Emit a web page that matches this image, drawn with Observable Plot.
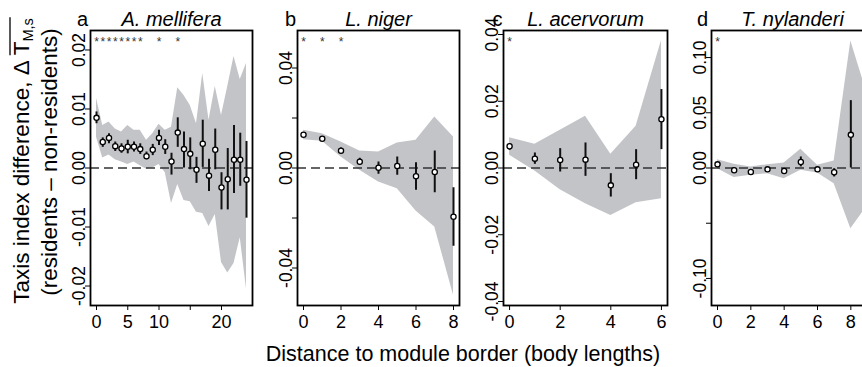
<!DOCTYPE html>
<html>
<head>
<meta charset="utf-8">
<script src="https://cdn.jsdelivr.net/npm/d3@7"></script>
<script src="https://cdn.jsdelivr.net/npm/@observablehq/plot@0.6"></script>
<style>
  html, body { margin: 0; padding: 0; background: white; }
  #chart { position: relative; width: 862px; height: 367px; overflow: hidden; background: white;
           font-family: "Liberation Sans", Arial, Helvetica, sans-serif; }
  #chart > svg { position: absolute; left: 0; top: 0; max-width: none !important; }
</style>
</head>
<body>
<div id="chart"></div>
<script>
// ---------------- data ----------------
// Panel a: A. mellifera
const xA = [0,1,2,3,4,5,6,7,8,9,10,11,12,13,14,15,16,17,18,19,20,21,22,23,24];
const meanA = [0.0085,0.0044,0.0051,0.0037,0.0033,0.0036,0.0036,0.0032,0.0020,0.0031,0.0051,0.0036,0.0011,0.0060,0.0032,0.0024,-0.0003,0.0041,-0.0013,0.0031,-0.0033,-0.0019,0.0014,0.0014,-0.0020];
const errLoA = [0.0075,0.0035,0.0041,0.0028,0.0025,0.0024,0.0027,0.0023,0.0014,0.0021,0.0038,0.0023,-0.0012,0.0035,0.0000,-0.0003,-0.0026,0.0001,-0.0040,-0.0003,-0.0071,-0.0071,-0.0043,-0.0031,-0.0085];
const errHiA = [0.0095,0.0051,0.0058,0.0044,0.0041,0.0047,0.0044,0.0041,0.0027,0.0040,0.0064,0.0048,0.0025,0.0085,0.0061,0.0051,0.0018,0.0081,0.0015,0.0066,-0.0008,0.0033,0.0072,0.0059,0.0045];
const bandHiA = [0.0118,0.0072,0.0078,0.0066,0.0061,0.0072,0.0064,0.0064,0.0047,0.0058,0.0074,0.0064,0.0069,0.0136,0.0123,0.0106,0.0075,0.0160,0.0081,0.0138,0.0089,0.0138,0.0189,0.0150,0.0177];
const bandLoA = [0.0052,0.0017,0.0022,0.0014,0.0010,0.0006,0.0010,0.0004,-0.0002,0.0000,0.0006,-0.0008,-0.0060,-0.0028,-0.0055,-0.0057,-0.0075,-0.0077,-0.0099,-0.0079,-0.0160,-0.0178,-0.0162,-0.0118,-0.0205];
const starsA = [0,1,2,3,4,5,6,7,10,13];

// Panel b: L. niger
const xB = [0,1,2,3,4,5,6,7,8];
const meanB = [0.0133,0.0117,0.0069,0.0025,0.0001,0.0008,-0.0033,-0.0016,-0.0195];
const errLoB = [0.0125,0.0110,0.0058,0.0011,-0.0025,-0.0029,-0.0089,-0.0099,-0.0313];
const errHiB = [0.0141,0.0124,0.0080,0.0039,0.0024,0.0044,0.0021,0.0068,-0.0079];
const bandHiB = [0.0151,0.0137,0.0104,0.0068,0.0064,0.0100,0.0111,0.0204,0.0124];
const bandLoB = [0.0113,0.0107,0.0044,-0.0009,-0.0056,-0.0083,-0.0172,-0.0236,-0.0509];
const starsB = [0,1,2];

// Panel c: L. acervorum
const xC = [0,1,2,3,4,5,6];
const meanC = [0.0065,0.0028,0.0024,0.0025,-0.0052,0.0010,0.0146];
const errLoC = [0.0053,0.0011,-0.0012,-0.0025,-0.0087,-0.0035,0.0055];
const errHiC = [0.0073,0.0045,0.0058,0.0075,-0.0017,0.0055,0.0235];
const bandHiC = [0.0091,0.0071,0.0113,0.0155,0.0041,0.0125,0.0381];
const bandLoC = [0.0038,-0.0009,-0.0065,-0.0107,-0.0142,-0.0104,-0.0092];
const starsC = [0];

// Panel d: T. nylanderi
const xD = [0,1,2,3,4,5,6,7,8];
const meanD = [0.0033,-0.0021,-0.0036,-0.0012,-0.0027,0.0054,-0.0012,-0.0039,0.030];
const errLoD = [0.0020,-0.0030,-0.0045,-0.0020,-0.0036,0.0010,-0.0020,-0.0081,0.0];
const errHiD = [0.0046,-0.0012,-0.0027,-0.0004,-0.0018,0.0100,-0.0004,-0.0006,0.061];
const bandXD = [0,1,2,3,4,5,6,7,8,9];
const bandHiD = [0.0075,0.0033,0.0009,0.0030,0.0045,0.0169,0.0024,0.0063,0.115,0.066];
const bandLoD = [-0.0006,-0.0087,-0.0066,-0.0051,-0.0097,-0.0021,-0.0045,-0.0142,-0.055,-0.034];
const starsD = [0];

// tick labels
const xTicksA = [0,5,10,15,20];
const xTickLabelsA = ["0","5","10","","20"];
const xTicksB = [0,2,4,6,8];
const xTickLabelsB = ["0","2","4","6","8"];
const xTicksC = [0,2,4,6];
const xTickLabelsC = ["0","2","4","6"];
const xTicksD = [0,2,4,6,8];
const xTickLabelsD = ["0","2","4","6","8"];

const yTicksA = [-0.02,-0.01,0,0.01,0.02];
const yTickLabelsA = ["-0.02","-0.01","0.00","0.01","0.02"];
const yTicksB = [-0.04,-0.02,0,0.02,0.04];
const yTickLabelsB = ["-0.04","","0.00","","0.04"];
const yTicksC = [-0.04,-0.02,0,0.02,0.04];
const yTickLabelsC = ["-0.04","-0.02","0.00","0.02","0.04"];
const yTicksD = [-0.10,-0.05,0,0.05,0.10];
const yTickLabelsD = ["-0.10","","0.00","0.05","0.10"];

const letters = ["a","b","c","d"];
const species = ["A. mellifera","L. niger","L. acervorum","T. nylanderi"];
const yTitle1 = "Taxis index difference, \u0394 ";
const yTitleT = "T";
const yTitleSub = "M,s";
const yTitle2 = "(residents \u2013 non-residents)";
const xTitle = "Distance to module border (body lengths)";

// ---------------- layout ----------------
const H = 367, TOP = 30, BOTTOM = 62;
const FONT = "'Liberation Sans', Arial, Helvetica, sans-serif";
const BAND = "#c3c4c8";

function panel(cfg) {
  const pts = cfg.x.map((x, i) => ({x, m: cfg.mean[i], lo: cfg.errLo[i], hi: cfg.errHi[i]}));
  const band = cfg.bandX.map((x, i) => ({x, lo: cfg.bandLo[i], hi: cfg.bandHi[i]}));
  const yLab = cfg.yTicks.map((v, i) => ({v, t: cfg.yTickLabels[i]})).filter(d => d.t !== "");
  const xLabel = new Map(cfg.xTicks.map((v, i) => [v, cfg.xTickLabels[i]]));
  const svg = Plot.plot({
    width: cfg.width, height: H,
    marginTop: TOP, marginBottom: BOTTOM,
    marginLeft: cfg.left, marginRight: cfg.width - cfg.right,
    style: {background: "transparent", overflow: "visible", fontFamily: FONT, fontSize: "18px", color: "black", maxWidth: "none"},
    x: {domain: cfg.xDomain, ticks: cfg.xTicks, tickFormat: d => xLabel.get(d) ?? "", tickSize: 5, tickPadding: 5, label: null},
    y: {domain: cfg.yDomain, ticks: cfg.yTicks, tickFormat: () => "", tickSize: 5, tickPadding: 0, label: null},
    marks: [
      Plot.areaY(band, {x: "x", y1: "lo", y2: "hi", fill: BAND}),
      Plot.ruleY([0], {stroke: "#333", strokeWidth: 1.4, strokeDasharray: "9,5"}),
      Plot.ruleX(pts, {x: "x", y1: "lo", y2: "hi", stroke: "#111", strokeWidth: 2}),
      Plot.dot(pts, {x: "x", y: "m", r: 2.6, fill: "white", stroke: "black", strokeWidth: 1.3}),
      Plot.text(cfg.stars, {x: d => d, frameAnchor: "top", dy: 15, text: () => "*", fontSize: 12, lineAnchor: "bottom", fill: "#333"}),
      Plot.text(yLab, {y: "v", text: "t", frameAnchor: "left", dx: -6, rotate: -90, textAnchor: "middle", lineAnchor: "bottom", fontSize: 17.5}),
      Plot.text([cfg.letter], {frameAnchor: "top-left", dx: cfg.letterDx, dy: -5, text: d => d, textAnchor: "middle", lineAnchor: "bottom", fontSize: 20}),
      Plot.text([cfg.title], {frameAnchor: "top", dy: -4.5, text: d => d, lineAnchor: "bottom", fontStyle: "italic", fontSize: 20}),
      Plot.frame({stroke: "black", strokeWidth: 1.8})
    ]
  });
  svg.style.maxWidth = "none";
  svg.style.width = cfg.width + "px";
  svg.style.height = H + "px";
  return svg;
}

const chart = document.getElementById("chart");
const cfgs = [
  {width: 862, left: 90, right: 252, xDomain: [-0.96, 24.96], yDomain: [-0.0233, 0.0233],
   x: xA, mean: meanA, errLo: errLoA, errHi: errHiA, bandX: xA, bandLo: bandLoA, bandHi: bandHiA, stars: starsA,
   xTicks: xTicksA, xTickLabels: xTickLabelsA, yTicks: yTicksA, yTickLabels: yTickLabelsA,
   letter: letters[0], letterDx: -8, title: species[0]},
  {width: 862, left: 297, right: 459, xDomain: [-0.32, 8.32], yDomain: [-0.055, 0.055],
   x: xB, mean: meanB, errLo: errLoB, errHi: errHiB, bandX: xB, bandLo: bandLoB, bandHi: bandHiB, stars: starsB,
   xTicks: xTicksB, xTickLabels: xTickLabelsB, yTicks: yTicksB, yTickLabels: yTickLabelsB,
   letter: letters[1], letterDx: -7, title: species[1]},
  {width: 862, left: 503, right: 667, xDomain: [-0.24, 6.24], yDomain: [-0.0412, 0.0412],
   x: xC, mean: meanC, errLo: errLoC, errHi: errHiC, bandX: xC, bandLo: bandLoC, bandHi: bandHiC, stars: starsC,
   xTicks: xTicksC, xTickLabels: xTickLabelsC, yTicks: yTicksC, yTickLabels: yTickLabelsC,
   letter: letters[2], letterDx: -6, title: species[2]},
  {width: 900, left: 711, right: 873, xDomain: [-0.36, 9.36], yDomain: [-0.1245, 0.1245],
   x: xD, mean: meanD, errLo: errLoD, errHi: errHiD, bandX: bandXD, bandLo: bandLoD, bandHi: bandHiD, stars: starsD,
   xTicks: xTicksD, xTickLabels: xTickLabelsD, yTicks: yTicksD, yTickLabels: yTickLabelsD,
   letter: letters[3], letterDx: -9, title: species[3]}
];
for (const c of cfgs) chart.appendChild(panel(c));

// ---------------- axis titles (overlay) ----------------
const svg = d3.select(chart).append("svg")
  .attr("width", 862).attr("height", H)
  .style("font-family", FONT);

const g1 = svg.append("g").attr("transform", "translate(29,161) rotate(-90)");
const t1 = g1.append("text").attr("text-anchor", "middle").attr("font-size", 22.5).attr("fill", "black");
t1.append("tspan").text(yTitle1);
t1.append("tspan").text(yTitleT);
t1.append("tspan").attr("font-size", 14.5).attr("dy", 4).text(yTitleSub);
// overline over T and subscript
const node = t1.node();
const n = node.getNumberOfChars();
const iT = yTitle1.length;
const x0 = node.getStartPositionOfChar(iT).x;
const x1 = node.getEndPositionOfChar(n - 1).x;
g1.append("line").attr("x1", x0).attr("x2", x1 + 1).attr("y1", -19).attr("y2", -19)
  .attr("stroke", "black").attr("stroke-width", 1.3);

svg.append("text").attr("transform", "translate(57,162) rotate(-90)")
  .attr("text-anchor", "middle").attr("font-size", 22.5).attr("fill", "black").text(yTitle2);

svg.append("text").attr("x", 463).attr("y", 361).attr("text-anchor", "middle")
  .attr("font-size", 21.5).attr("fill", "black").text(xTitle);
</script>
</body>
</html>
